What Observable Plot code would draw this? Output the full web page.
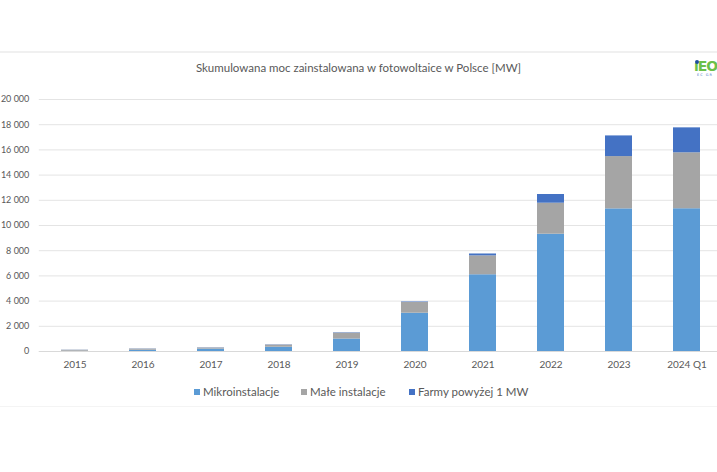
<!DOCTYPE html>
<html>
<head>
<meta charset="utf-8">
<script src="https://cdn.jsdelivr.net/npm/d3@7"></script>
<script src="https://cdn.jsdelivr.net/npm/@observablehq/plot@0.6"></script>
<style>
  html, body { margin: 0; padding: 0; background: #fff; overflow: hidden; }
  #wrap { position: relative; width: 717px; height: 472px; overflow: hidden; font-family: Lato, "Open Sans", sans-serif; color: #595959; }
  #chart { position: absolute; left: 0; top: 0; }
  .hline { position: absolute; left: 0; width: 717px; }
  #title { position: absolute; left: 0; width: 717px; top: 60px; text-align: center; font-size: 11.5px; line-height: 16px; color: #595959; }
  #legend { position: absolute; left: 0; width: 717px; top: 384px; font-size: 11.5px; line-height: 16px; color: #595959; }
  .item { position: absolute; top: 0; white-space: nowrap; }
  .sw { display: inline-block; width: 6px; height: 6px; margin-right: 3px; vertical-align: 1px; }
  #logo { position: absolute; left: 694px; top: 57px; width: 23px; font-family: "DejaVu Sans", sans-serif; font-weight: bold; font-size: 14px; line-height: 18px; color: #6cc04a; letter-spacing: -1px; white-space: nowrap; }
  #logo .dot { position: absolute; left: 1px; top: 3px; width: 4px; height: 4px; border-radius: 50%; background: #1f4e9c; }
  #logo .sub { position: absolute; left: 3px; top: 16px; font-size: 3.5px; line-height: 4px; font-weight: normal; color: #4472c4; letter-spacing: 1px; }
</style>
</head>
<body>
<div id="wrap">
  <div class="hline" style="top:51px;height:2px;background:#f0f0f0"></div>
  <div class="hline" style="top:406px;height:1px;background:#f4f4f4"></div>
  <div id="chart"></div>
  <div id="title">Skumulowana moc zainstalowana w fotowoltaice w Polsce [MW]</div>
  <div id="legend"></div>
  <div id="logo"><span class="dot"></span>ıEO<span class="sub">EC GR</span></div>
</div>
<script>
const years = ["2015", "2016", "2017", "2018", "2019", "2020", "2021", "2022", "2023", "2024 Q1"];
const seriesNames = ["Mikroinstalacje", "Małe instalacje", "Farmy powyżej 1 MW"];
const mikro = [20, 100, 190, 340, 990, 3040, 6090, 9310, 11320, 11330];
const male  = [80, 90, 90, 170, 470, 850, 1500, 2460, 4150, 4440];
const farmy = [10, 15, 15, 20, 30, 40, 150, 690, 1640, 1980];
const seriesColors = ["#5b9bd5", "#a5a5a5", "#4472c4"];
const yTicks = [0, 2000, 4000, 6000, 8000, 10000, 12000, 14000, 16000, 18000, 20000];

const seriesValues = [mikro, male, farmy];
const data = [];
years.forEach((yr, i) => {
  seriesNames.forEach((s, j) => {
    data.push({ rok: yr, typ: s, moc: seriesValues[j][i] });
  });
});

const fmt = d => d3.format(",")(d).replace(/,/g, " ");

const chart = Plot.plot({
  width: 717,
  height: 472,
  marginTop: 99,
  marginBottom: 121,
  marginLeft: 38.8,
  marginRight: 0,
  style: { fontFamily: "Lato, 'Open Sans', sans-serif", fontSize: "10px", color: "#595959", background: "transparent", overflow: "visible" },
  x: { domain: years, range: [38.8, 722.1], paddingInner: 0.6, paddingOuter: 0.3, label: null },
  y: { domain: [0, 20000], label: null },
  color: { domain: seriesNames, range: seriesColors },
  marks: [
    Plot.gridY(yTicks, { stroke: "#e4e4e4", strokeOpacity: 1 }),
    Plot.ruleY([0], { stroke: "#d9d9d9" }),
    Plot.barY(data, { x: "rok", y: "moc", fill: "typ" }),
    Plot.axisX({ tickSize: 0, tickPadding: 9, label: null, fontSize: 10 }),
    Plot.axisY(yTicks, { tickSize: 0, tickPadding: 10, tickFormat: fmt, label: null, fontSize: 9 })
  ]
});
document.getElementById("chart").appendChild(chart);

const legendPos = [194, 301, 409];
const legend = document.getElementById("legend");
seriesNames.forEach((s, j) => {
  const it = document.createElement("div");
  it.className = "item";
  it.style.left = legendPos[j] + "px";
  it.innerHTML = `<span class="sw" style="background:${seriesColors[j]}"></span>${s}`;
  legend.appendChild(it);
});
</script>
</body>
</html>
